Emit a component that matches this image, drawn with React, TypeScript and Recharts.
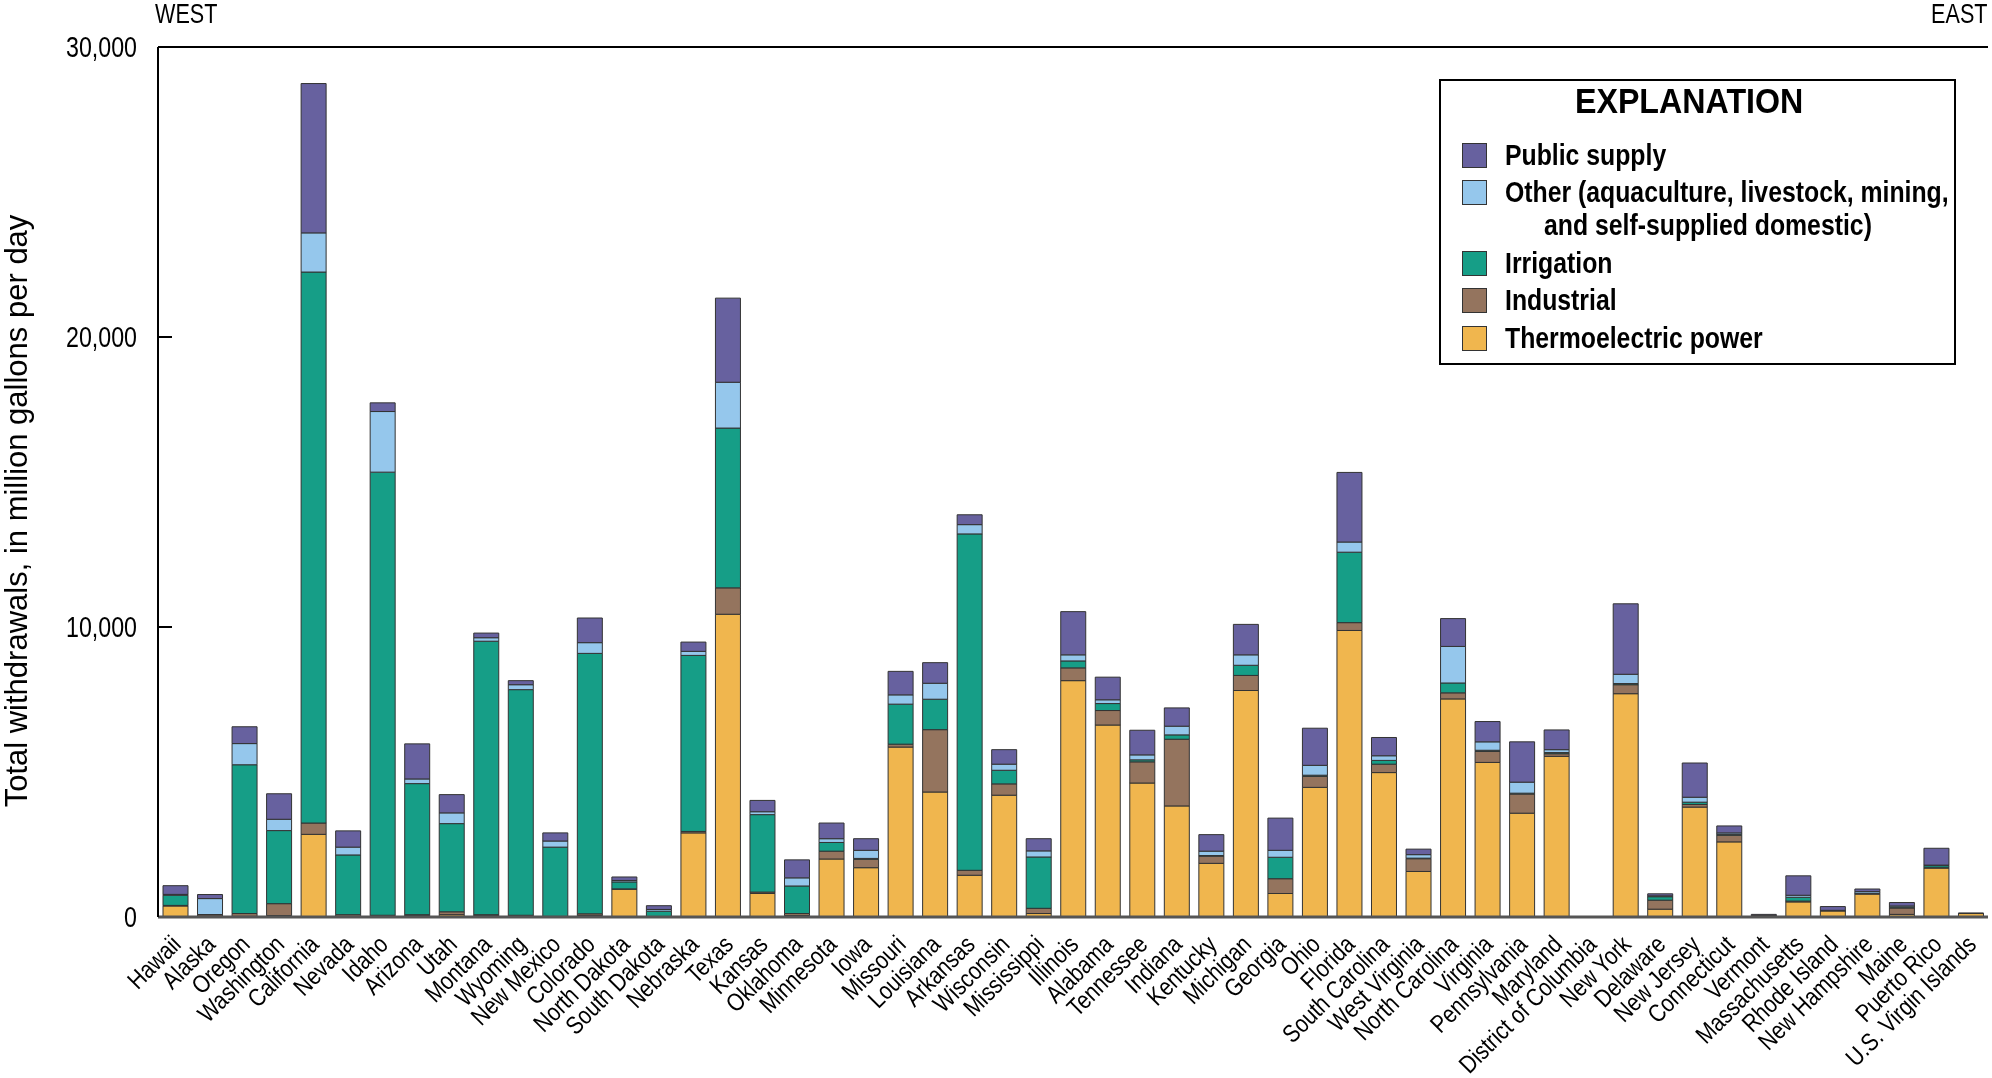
import React from 'react';
import { ComposedChart, Bar, Line, XAxis, YAxis, ReferenceLine, Legend } from 'recharts';

const states = [
  'Hawaii', 'Alaska', 'Oregon', 'Washington', 'California', 'Nevada', 'Idaho', 'Arizona', 'Utah', 'Montana',
  'Wyoming', 'New Mexico', 'Colorado', 'North Dakota', 'South Dakota', 'Nebraska', 'Texas', 'Kansas', 'Oklahoma',
  'Minnesota', 'Iowa', 'Missouri', 'Louisiana', 'Arkansas', 'Wisconsin', 'Mississippi', 'Illinois', 'Alabama',
  'Tennessee', 'Indiana', 'Kentucky', 'Michigan', 'Georgia', 'Ohio', 'Florida', 'South Carolina', 'West Virginia',
  'North Carolina', 'Virginia', 'Pennsylvania', 'Maryland', 'District of Columbia', 'New York', 'Delaware',
  'New Jersey', 'Connecticut', 'Vermont', 'Massachusetts', 'Rhode Island', 'New Hampshire', 'Maine', 'Puerto Rico',
  'U.S. Virgin Islands',
];

// million gallons per day
const thermoelectric = [380, 30, 20, 50, 2850, 20, 0, 50, 80, 50, 40, 10, 50, 960, 0, 2900, 10440, 810, 50, 2000, 1700, 5860, 4310, 1440, 4200, 120, 8150, 6620, 4620, 3830, 1850, 7810, 810, 4470, 9880, 4980, 1570, 7520, 5330, 3580, 5540, 0, 7700, 270, 3790, 2590, 20, 520, 210, 790, 90, 1690, 120];
const industrial = [20, 50, 100, 410, 390, 60, 60, 30, 100, 30, 20, 10, 60, 10, 5, 50, 910, 50, 70, 270, 290, 100, 2150, 170, 390, 180, 440, 500, 730, 2300, 250, 520, 510, 380, 270, 290, 440, 210, 380, 660, 90, 0, 310, 310, 90, 230, 10, 30, 10, 20, 220, 10, 0];
const irrigation = [350, 5, 5130, 2520, 19000, 2060, 15280, 4520, 3040, 9430, 7780, 2390, 8980, 240, 195, 6070, 5510, 2670, 950, 300, 30, 1380, 1050, 11600, 470, 1770, 240, 240, 70, 150, 20, 350, 740, 40, 2430, 130, 20, 340, 40, 30, 40, 0, 40, 120, 80, 30, 5, 130, 0, 5, 30, 70, 0];
const other = [30, 550, 730, 390, 1350, 270, 2090, 160, 370, 120, 170, 210, 370, 50, 60, 140, 1580, 100, 280, 130, 280, 320, 550, 320, 210, 210, 210, 130, 170, 300, 150, 360, 240, 340, 350, 160, 120, 1260, 290, 380, 100, 5, 320, 30, 170, 50, 15, 70, 10, 60, 40, 20, 0];
const publicSupply = [300, 140, 580, 880, 5150, 560, 300, 1210, 630, 160, 140, 280, 850, 120, 130, 320, 2900, 390, 620, 540, 400, 810, 710, 340, 500, 420, 1490, 780, 850, 630, 570, 1050, 1110, 1280, 2400, 630, 190, 960, 700, 1390, 680, 10, 2430, 70, 1180, 240, 40, 670, 130, 90, 120, 580, 20];

const yTicks = [0, 10000, 20000, 30000];

const COLORS = {
  publicSupply: '#67619f',
  other: '#95c7ec',
  irrigation: '#169e87',
  industrial: '#94745e',
  thermoelectric: '#f0b64e',
};

const legendItems = [
  { key: 'publicSupply', lines: ['Public supply'] },
  { key: 'other', lines: ['Other (aquaculture, livestock, mining,', 'and self-supplied domestic)'] },
  { key: 'irrigation', lines: ['Irrigation'] },
  { key: 'industrial', lines: ['Industrial'] },
  { key: 'thermoelectric', lines: ['Thermoelectric power'] },
];

const rows = states.map((state, i) => ({
  state,
  thermoelectric: thermoelectric[i],
  industrial: industrial[i],
  irrigation: irrigation[i],
  other: other[i],
  publicSupply: publicSupply[i],
}));

const SANS = '"Liberation Sans", Arial, sans-serif';
const SQUEEZE = 0.8; // fake a condensed face

const Narrow = ({ children, origin = 'left', k = SQUEEZE }: { children: React.ReactNode; origin?: string; k?: number }) => (
  <span style={{ display: 'inline-block', transform: `scaleX(${k})`, transformOrigin: origin, whiteSpace: 'nowrap' }}>{children}</span>
);

const LeftTick = (props: any) => {
  const { x, y, payload } = props;
  const v = payload.value;
  return (
    <g>
      <text transform={`translate(${x - 21},${y}) scale(${SQUEEZE} 1)`} dy="0.36em" textAnchor="end" fontFamily={SANS} fontSize={29} fill="#000">
        {v.toLocaleString('en-US')}
      </text>
      {v > 0 && v < 30000 && <line x1={x} x2={x + 14} y1={y} y2={y} stroke="#000" strokeWidth={2} />}
    </g>
  );
};

const RightTick = (props: any) => {
  const { x, y, payload } = props;
  const v = payload.value;
  if (v <= 0 || v >= 30000) return <g />;
  return <line x1={x - 14} x2={x} y1={y} y2={y} stroke="#000" strokeWidth={2} />;
};

const StateTick = (props: any) => {
  const { x, y, payload } = props;
  const tx = x + 7;
  const ty = y + 29;
  return (
    <text transform={`translate(${tx},${ty}) rotate(-45) scale(0.84 1)`} textAnchor="end" fontFamily={SANS} fontSize={25} fill="#000">
      {payload.value}
    </text>
  );
};

const Explanation = () => {
  const tops = [75, 112, 183, 220, 258];
  return (
    <div style={{ position: 'relative', width: 517, height: 286, border: '2px solid #000', boxSizing: 'border-box', background: '#fff', fontFamily: SANS, fontWeight: 'bold', color: '#000', textAlign: 'left' }}>
      <div style={{ position: 'absolute', left: -16, right: 0, top: 0, textAlign: 'center', fontSize: 35, lineHeight: '40px' }}>
        <Narrow origin="center" k={0.92}>EXPLANATION</Narrow>
      </div>
      {legendItems.map((it, i) => (
        <div key={it.key}>
          <div style={{ position: 'absolute', left: 21, top: tops[i] - 13, width: 25, height: 25, background: (COLORS as any)[it.key], border: '1.5px solid #333', boxSizing: 'border-box' }} />
          {it.lines.map((ln, j) => (
            <div key={j} style={{ position: 'absolute', left: j === 0 ? 64 : 103, top: tops[i] - 19 + j * 33, fontSize: 29, lineHeight: '36px' }}>
              <Narrow k={0.855}>{ln}</Narrow>
            </div>
          ))}
        </div>
      ))}
    </div>
  );
};

const App: React.FC = () => {
  const W = 1992;
  const H = 1078;
  return (
    <div style={{ position: 'fixed', left: 0, top: 0, width: W, height: H, background: '#fff' }}>
      <div style={{ position: 'absolute', left: 155, top: -1, fontFamily: SANS, fontSize: 27 }}>
        <Narrow>WEST</Narrow>
      </div>
      <div style={{ position: 'absolute', right: 4, top: -1, fontFamily: SANS, fontSize: 27 }}>
        <Narrow origin="right">EAST</Narrow>
      </div>
      <svg width={40} height={H} style={{ position: 'absolute', left: 0, top: 0 }}>
        <text transform="translate(27,511) rotate(-90)" textAnchor="middle" fontFamily={SANS} fontSize={31} fill="#000">
          Total withdrawals, in million gallons per day
        </text>
      </svg>
      <ComposedChart width={W} height={H} data={rows} margin={{ top: 47, right: 4, bottom: 0, left: 0 }} barSize={25}>
        <XAxis dataKey="state" interval={0} height={161} tickSize={0} tickMargin={0} tickLine={false} tick={<StateTick />} axisLine={{ stroke: '#555', strokeWidth: 3 }} />
        <YAxis yAxisId="l" type="number" domain={[0, 30000]} ticks={yTicks} interval={0} width={158} tickSize={0} tickMargin={0} tickLine={false} tick={<LeftTick />} axisLine={{ stroke: '#000', strokeWidth: 2 }} />
        <YAxis yAxisId="r" orientation="right" type="number" domain={[0, 30000]} ticks={yTicks} interval={0} width={0} tickSize={0} tickMargin={0} tickLine={false} tick={<RightTick />} axisLine={{ stroke: '#000', strokeWidth: 2 }} />
        <ReferenceLine yAxisId="l" y={30000} stroke="#000" strokeWidth={2} />
        <Bar yAxisId="l" dataKey="thermoelectric" stackId="a" fill={COLORS.thermoelectric} stroke="#333" strokeWidth={1} isAnimationActive={false} />
        <Bar yAxisId="l" dataKey="industrial" stackId="a" fill={COLORS.industrial} stroke="#333" strokeWidth={1} isAnimationActive={false} />
        <Bar yAxisId="l" dataKey="irrigation" stackId="a" fill={COLORS.irrigation} stroke="#333" strokeWidth={1} isAnimationActive={false} />
        <Bar yAxisId="l" dataKey="other" stackId="a" fill={COLORS.other} stroke="#333" strokeWidth={1} isAnimationActive={false} />
        <Bar yAxisId="l" dataKey="publicSupply" stackId="a" fill={COLORS.publicSupply} stroke="#333" strokeWidth={1} isAnimationActive={false} />
        <Line yAxisId="r" dataKey="publicSupply" stroke="none" dot={false} activeDot={false} legendType="none" isAnimationActive={false} />
        <Legend layout="vertical" align="center" verticalAlign="middle" content={<Explanation />} wrapperStyle={{ position: 'absolute', left: 1439, top: 79, width: 517, height: 286 }} />
      </ComposedChart>
    </div>
  );
};

export default App;
